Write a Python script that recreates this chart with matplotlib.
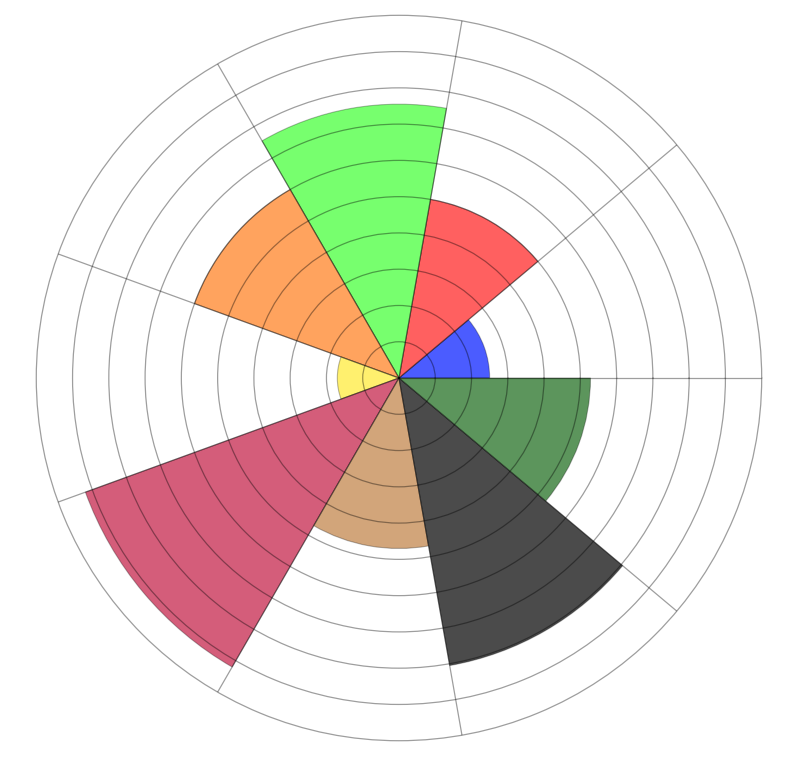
import numpy as np
import matplotlib
matplotlib.use("Agg")
import matplotlib.pyplot as plt

# segment values, counter-clockwise from the right (east)
labels = ["Blue", "Red", "Green", "Orange", "Yellow", "Crimson", "Tan", "Dark gray", "Dark green"]
values = [2.5, 5.0, 7.55, 6.0, 1.7, 9.2, 4.7, 8.05, 5.28]
colors = ["#4b5cff", "#ff6060", "#77ff6e", "#ffa35e", "#fff06e",
          "#d45d7a", "#d2a57a", "#4b4b4b", "#5c955c"]
ring_ticks = list(range(1, 10))   # r=10 is the outer spine

n = len(values)
step = 2 * np.pi / n
theta = np.arange(n) * step + step / 2

fig = plt.figure(figsize=(7.99, 7.58), dpi=100)
ax = fig.add_axes([0.0454, 0.0228, 0.9079, 0.957], projection="polar")
ax.set_theta_zero_location("E")
ax.set_theta_direction(1)

ax.bar(theta, values, width=step, bottom=0, color=colors,
       edgecolor=(0, 0, 0, 0.28), linewidth=0.8, zorder=1)

ax.set_ylim(0, 10)
ax.set_rgrids(ring_ticks, labels=[""] * len(ring_ticks))
ax.set_thetagrids(np.degrees(np.arange(n) * step), labels=[""] * n)
ax.set_axisbelow(False)
ax.grid(True, color="black", alpha=0.38, linewidth=0.9)
ax.spines["polar"].set_color("#9e9e9e")
ax.spines["polar"].set_linewidth(0.9)
ax.tick_params(length=0)

fig.savefig("out.png", dpi=100)
